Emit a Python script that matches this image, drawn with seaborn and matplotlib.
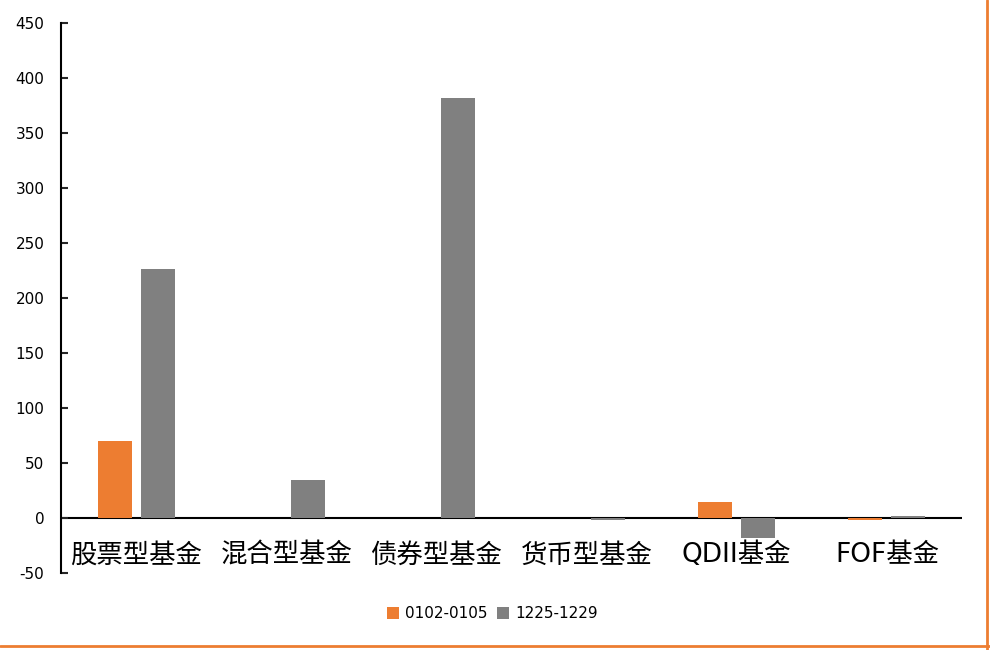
import matplotlib
matplotlib.use('Agg')
import matplotlib.pyplot as plt
import seaborn as sns
import pandas as pd
from matplotlib.lines import Line2D

categories = ['股票型基金', '混合型基金', '债券型基金', '货币型基金', 'QDII基金', 'FOF基金']
series_names = ['0102-0105', '1225-1229']
vals_0102 = [70, 0.0, 0.0, 0.0, 15, -2]
vals_1225 = [226, 35, 382, -2, -18, 2]
y_ticks = [-50, 0, 50, 100, 150, 200, 250, 300, 350, 400, 450]

df = pd.DataFrame({
    'cat': categories * 2,
    'series': [series_names[0]] * 6 + [series_names[1]] * 6,
    'value': vals_0102 + vals_1225,
})

sns.set_style('white')
plt.rcParams['font.family'] = ['DejaVu Sans', 'Noto Sans CJK SC']
plt.rcParams['text.color'] = 'black'

fig = plt.figure(figsize=(9.9, 6.5), dpi=100)
ax = fig.add_axes([61 / 990, 1 - 573 / 650, 901 / 990, 550 / 650])

sns.barplot(data=df, x='cat', y='value', hue='series', order=categories,
            hue_order=series_names, palette=['#ED7D31', '#808080'],
            width=0.573, gap=0.21, saturation=1, linewidth=0, ax=ax, legend=True)

ax.set_ylim(-50, 450)
ax.set_xlim(-0.5, 5.5)
ax.set_yticks(y_ticks)
ax.set_yticklabels([str(t) for t in y_ticks], fontsize=11, color='black')
ax.set_xlabel('')
ax.set_ylabel('')
for s in ['top', 'right', 'bottom']:
    ax.spines[s].set_visible(False)
ax.spines['left'].set_color('black')
ax.spines['left'].set_linewidth(1.5)
# zero line, drawn under the bars so the tiny ones still show
ax.axhline(0, color='black', lw=1.5, zorder=0.5)
ax.tick_params(axis='y', direction='in', length=5, width=1.5, left=True, pad=12)
ax.tick_params(axis='x', length=0, pad=-22)
for lbl in ax.get_xticklabels():
    lbl.set_fontfamily(['DejaVu Sans', 'Noto Sans CJK SC'])
    lbl.set_fontsize(19)
    lbl.set_color('black')

leg = ax.legend(loc='center', bbox_to_anchor=(0.497, 1 - 614 / 650), bbox_transform=fig.transFigure,
                ncol=2, frameon=False, fontsize=11, handlelength=0.8, handleheight=0.8,
                handletextpad=0.4, columnspacing=0.6)
for t in leg.get_texts():
    t.set_color('black')

# orange frame edges on right and bottom
fig.lines.append(Line2D([987 / 990, 987 / 990], [0, 1], transform=fig.transFigure,
                        color='#ED7D31', lw=2))
fig.lines.append(Line2D([0, 1], [1 - 646 / 650, 1 - 646 / 650], transform=fig.transFigure,
                        color='#ED7D31', lw=2))

fig.savefig('out.png', dpi=100)
